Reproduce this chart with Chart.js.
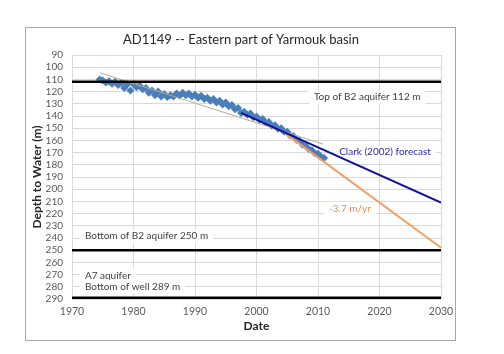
<!DOCTYPE html>
<html><head><meta charset="utf-8">
<script src="https://cdn.jsdelivr.net/npm/chart.js@4"></script>
<style>html,body{margin:0;padding:0;background:#fff}#c{display:block}</style>
</head><body>
<canvas id="c" width="504" height="354"></canvas>
<script>
const obsYears = [1974.5,1975,1975.5,1976,1976.5,1977,1977.5,1978,1978.5,1979,1979.5,1980,1980.5,1981,1981.5,1982,1982.5,1983,1983.5,1984,1984.5,1985,1985.5,1986,1986.5,1987,1987.5,1988,1988.5,1989,1989.5,1990,1990.5,1991,1991.5,1992,1992.5,1993,1993.5,1994,1994.5,1995,1995.5,1996,1996.5,1997,1997.5,1998,1998.5,1999,1999.5,2000,2000.5,2001,2001.5,2002,2002.5,2003,2003.5,2004,2004.5,2005,2005.5,2006,2006.5,2007,2007.5,2008,2008.5,2009,2009.5,2010,2010.5,2011];
const obsDepths = [110,111,112.5,111.5,113.5,112,114.5,113,117,114,119,114,116.5,115,118,117,121,119,123,120,124,122,124.5,123,124,121.5,123.5,121,123,121.5,124,122.5,125,123.5,126,125,127.5,126,129,127.5,130.5,129,132,131,134.5,133.5,137.5,136.5,139,138,141,140.5,143,142.5,145.5,145,148,147.5,150.5,150,153,153,156,156.5,159.5,160.5,163.5,164.5,167,168,170.5,171,173.5,174.5];
const trendYears = [1974.5, 2010.8];
const trendDepths = [104.5, 163];
const clarkYears = [1997.5, 2030];
const clarkDepths = [137.5, 211];
const rateYears = [2005, 2030];
const rateDepths = [155.5, 248];
const levelDepths = [112, 250, 289];
const xTicks = [1970, 1980, 1990, 2000, 2010, 2020, 2030];
const yTicks = [90,100,110,120,130,140,150,160,170,180,190,200,210,220,230,240,250,260,270,280,290];
const labels = [
  {text:'Top of B2 aquifer 112 m', x:2018, y:124.4, align:'center', color:'#404040'},
  {text:'Clark (2002) forecast', x:2020.9, y:169.5, align:'center', color:'#2a2aa8'},
  {text:'-3.7 m/yr', x:2015.2, y:216, align:'center', color:'#e8904a'},
  {text:'Bottom of B2 aquifer 250 m', x:1972.1, y:238.4, align:'left', color:'#404040'},
  {text:'A7 aquifer', x:1972.1, y:271, align:'left', color:'#404040'},
  {text:'Bottom of well 289 m', x:1972.1, y:280, align:'left', color:'#404040'}
];
const pts = (xs, ys) => xs.map((x, i) => ({x, y: ys[i]}));
const FONT = 'Lato, "Open Sans", sans-serif';

const datasets = [];
levelDepths.forEach(d => datasets.push({
  data: pts([1970, 2030], [d, d]), showLine: true, borderColor: '#000', borderWidth: 2.5,
  pointRadius: 0, order: 1
}));
datasets.push({data: pts(obsYears, obsDepths), pointStyle: 'rectRot', pointRadius: 4,
  backgroundColor: '#4a7ebb', borderColor: '#4a7ebb', borderWidth: 0, showLine: false, order: 5});
datasets.push({data: pts(trendYears, trendDepths), showLine: true, borderColor: '#b5ae90', borderWidth: 1, pointRadius: 0, order: 4});
datasets.push({data: pts(rateYears, rateDepths), showLine: true, borderColor: '#f2a063', borderWidth: 2, pointRadius: 0, order: 3});
datasets.push({data: pts(clarkYears, clarkDepths), showLine: true, borderColor: '#1010a0', borderWidth: 2, pointRadius: 0, order: 2});

const deco = {
  id: 'deco',
  beforeDatasetsDraw(chart) {
    const ctx = chart.ctx, xs = chart.scales.x, ys = chart.scales.y;
    ctx.save();
    ctx.font = '10px ' + FONT;
    ctx.textBaseline = 'middle';
    labels.forEach(l => {
      const w = ctx.measureText(l.text).width;
      let px = xs.getPixelForValue(l.x), py = ys.getPixelForValue(l.y);
      let left = l.align === 'center' ? px - w / 2 : px;
      ctx.fillStyle = '#fff';
      ctx.fillRect(left - 5, py - 7, w + 10, 14);
      ctx.fillStyle = l.color;
      ctx.textAlign = 'left';
      ctx.fillText(l.text, left, py);
    });
    ctx.restore();
  },
  afterDraw(chart) {
    const ctx = chart.ctx, a = chart.chartArea;
    ctx.save();
    ctx.strokeStyle = '#a6a6a6'; ctx.lineWidth = 1;
    ctx.strokeRect(25.5, 27.5, 430, 313);
    ctx.fillStyle = '#262626';
    ctx.textAlign = 'center'; ctx.textBaseline = 'middle';
    ctx.font = '13px ' + FONT;
    ctx.fillText('AD1149 -- Eastern part of Yarmouk basin', 241, 40);
    ctx.font = 'bold 12px ' + FONT;
    ctx.fillText('Date', (a.left + a.right) / 2, 326);
    ctx.translate(37, (a.top + a.bottom) / 2);
    ctx.rotate(-Math.PI / 2);
    ctx.fillText('Depth to Water (m)', 0, 0);
    ctx.restore();
  }
};

new Chart(document.getElementById('c'), {
  type: 'scatter',
  data: {datasets},
  options: {
    responsive: false, animation: false,
    layout: {padding: {left: 0, top: 55, right: 63, bottom: 0}},
    plugins: {legend: {display: false}, tooltip: {enabled: false}},
    scales: {
      x: {
        type: 'linear', min: xTicks[0], max: xTicks[xTicks.length - 1],
        afterFit(s) { s.height = 55; },
        afterBuildTicks(s) { s.ticks = xTicks.map(v => ({value: v})); },
        ticks: {autoSkip: false, callback: v => String(v), color: '#595959', font: {family: FONT, size: 10.5}, padding: 6, maxRotation: 0},
        grid: {color: '#d9d9d9', drawTicks: false}, border: {display: false}
      },
      y: {
        type: 'linear', reverse: true, min: yTicks[0], max: yTicks[yTicks.length - 1],
        afterFit(s) { s.width = 72; },
        afterBuildTicks(s) { s.ticks = yTicks.map(v => ({value: v})); },
        ticks: {autoSkip: false, callback: v => String(v), color: '#595959', font: {family: FONT, size: 10}, padding: 9},
        grid: {color: '#d9d9d9', drawTicks: false}, border: {display: false}
      }
    }
  },
  plugins: [deco]
});
</script>
</body></html>
